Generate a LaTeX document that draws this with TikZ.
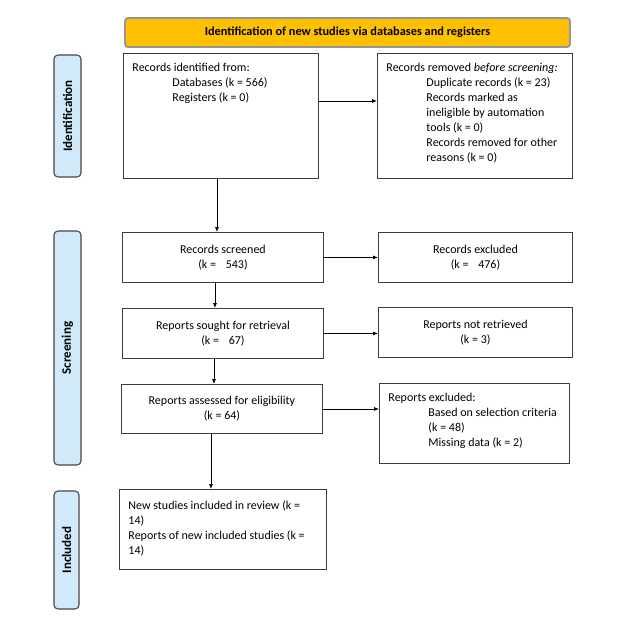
\documentclass[tikz,border=0pt]{standalone}
\usepackage{fontspec}
\setmainfont{Carlito}
\usetikzlibrary{arrows.meta}
\definecolor{hdrfill}{RGB}{255,192,0}
\definecolor{hdrline}{RGB}{150,150,150}
\definecolor{sidefill}{RGB}{208,234,252}
\definecolor{sideline}{RGB}{70,70,70}
\definecolor{boxline}{RGB}{60,60,60}
\tikzset{
  box/.style={draw=boxline, line width=0.9pt, fill=white, inner sep=0pt, font=\fontsize{12}{15}\selectfont},
  sidebox/.style={draw=sideline, line width=1.1pt, fill=sidefill, rounded corners=4pt, rotate=90, inner sep=0pt, font=\fontsize{13}{14}\selectfont\bfseries},
  hdr/.style={draw=hdrline, line width=1.8pt, fill=hdrfill, rounded corners=3pt, inner sep=0pt, font=\fontsize{12.3}{14}\selectfont\bfseries},
  arr/.style={-{Latex[length=5pt,width=4pt]}, line width=0.7pt, black}
}
\begin{document}
\begin{tikzpicture}[x=1pt,y=-1pt]
\useasboundingbox[fill=white] (0,0) rectangle (640,640);
% header
\node[hdr, minimum width=445, minimum height=29] (hdr) at (347.5,32.5) {Identification of new studies via databases and registers};
% side labels
\node[sidebox, minimum width=122, minimum height=27] (sid) at (67.5,116) {Identification};
\node[sidebox, minimum width=234, minimum height=27] (sscr) at (67.5,348) {Screening};
\node[sidebox, minimum width=118, minimum height=25] (sinc) at (66.5,550) {Included};
% boxes
\node[box, anchor=north west] (ident) at (123,53) {\begin{minipage}[t][125pt][t]{195pt}\raggedright\vspace{10pt}%
\hspace*{9pt}Records identified from:\par
{\leftskip=49pt Databases (k = 566)\par Registers (k = 0)\par}\end{minipage}};
\node[box, anchor=north west] (removed) at (377,53) {\begin{minipage}[t][125pt][t]{195pt}\raggedright\vspace{10pt}%
\hspace*{9pt}Records removed \textit{before screening:}\par
{\leftskip=49pt Duplicate records (k = 23)\par Records marked as\newline ineligible by automation\newline tools (k = 0)\par Records removed for other\newline reasons (k = 0)\par}\end{minipage}};
\node[box, minimum width=201, minimum height=50, align=center, anchor=north west] (screened) at (122,232) {Records screened\\(k = \hspace{7pt}543)};
\node[box, minimum width=194, minimum height=50, align=center, anchor=north west] (excluded) at (378,232) {Records excluded\\(k = \hspace{7pt}476)};
\node[box, minimum width=201, minimum height=50, align=center, anchor=north west] (sought) at (122,308) {Reports sought for retrieval\\(k = \hspace{7pt}67)};
\node[box, minimum width=194, minimum height=50, align=center, anchor=north west] (notret) at (378,307) {Reports not retrieved\\(k = 3)};
\node[box, minimum width=201, minimum height=49, align=center, anchor=north west] (assessed) at (121,384) {Reports assessed for eligibility\\(k = 64)};
\node[box, anchor=north west] (repexcl) at (379,383) {\begin{minipage}[t][80pt][t]{190pt}\raggedright\vspace{10pt}%
\hspace*{9pt}Reports excluded:\par
{\leftskip=49pt Based on selection criteria\newline (k = 48)\par Missing data (k = 2)\par}\end{minipage}};
\node[box, anchor=north west] (incl) at (119,489) {\begin{minipage}[t][80pt][t]{207pt}\raggedright\vspace{11pt}%
{\leftskip=9pt New studies included in review (k =\newline 14)\par Reports of new included studies (k =\newline 14)\par}\end{minipage}};
% connectors
\path (ident.east) ++(0,-15) coordinate (a1);
\draw[arr] (a1) -- (a1 -| removed.west);
\path (ident.south) ++(-4,0) coordinate (a2);
\draw[arr] (a2) -- (a2 |- screened.north);
\draw[arr] (screened.east) -- (screened.east -| excluded.west);
\path (screened.south) ++(-8,0) coordinate (a3);
\draw[arr] (a3) -- (a3 |- sought.north);
\draw[arr] (sought.east) -- (sought.east -| notret.west);
\path (sought.south) ++(-9,0) coordinate (a4);
\draw[arr] (a4) -- (a4 |- assessed.north);
\draw[arr] (assessed.east) -- (assessed.east -| repexcl.west);
\path (assessed.south) ++(-11,0) coordinate (a5);
\draw[arr] (a5) -- (a5 |- incl.north);
\end{tikzpicture}
\end{document}
